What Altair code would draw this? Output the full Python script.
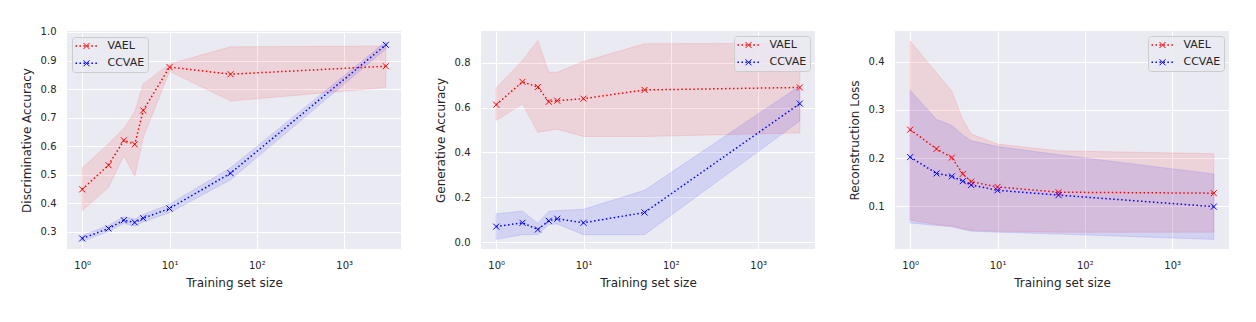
import altair as alt
import pandas as pd

# ---------------- data ----------------
x_sizes = [1, 2, 3, 4, 5, 10, 50, 3000]
series_names = ["VAEL", "CCVAE"]
series_colors = ["#ff0000", "#0000ff"]

# Discriminative accuracy
disc_vael_mean = [0.448, 0.533, 0.620, 0.606, 0.725, 0.877, 0.852, 0.880]
disc_vael_lo = [0.373, 0.455, 0.566, 0.494, 0.630, 0.862, 0.758, 0.805]
disc_vael_hi = [0.523, 0.608, 0.662, 0.720, 0.818, 0.888, 0.948, 0.951]
disc_ccvae_mean = [0.276, 0.311, 0.340, 0.332, 0.347, 0.381, 0.505, 0.955]
disc_ccvae_lo = [0.266, 0.300, 0.328, 0.320, 0.334, 0.366, 0.482, 0.940]
disc_ccvae_hi = [0.286, 0.322, 0.352, 0.344, 0.360, 0.396, 0.524, 0.966]

# Generative accuracy
gen_vael_mean = [0.613, 0.715, 0.692, 0.626, 0.631, 0.640, 0.679, 0.690]
gen_vael_lo = [0.543, 0.617, 0.489, 0.498, 0.504, 0.471, 0.471, 0.487]
gen_vael_hi = [0.688, 0.810, 0.900, 0.758, 0.758, 0.806, 0.885, 0.887]
gen_ccvae_mean = [0.069, 0.086, 0.056, 0.095, 0.104, 0.086, 0.132, 0.618]
gen_ccvae_lo = [0.012, 0.033, 0.033, 0.078, 0.081, 0.033, 0.033, 0.540]
gen_ccvae_hi = [0.126, 0.138, 0.084, 0.137, 0.141, 0.146, 0.231, 0.697]

# Reconstruction loss
rec_vael_mean = [0.259, 0.219, 0.201, 0.167, 0.151, 0.140, 0.129, 0.127]
rec_vael_lo = [0.071, 0.062, 0.059, 0.053, 0.050, 0.048, 0.046, 0.046]
rec_vael_hi = [0.443, 0.377, 0.339, 0.280, 0.250, 0.229, 0.215, 0.209]
rec_ccvae_mean = [0.202, 0.168, 0.162, 0.152, 0.144, 0.133, 0.123, 0.099]
rec_ccvae_lo = [0.065, 0.060, 0.057, 0.052, 0.048, 0.046, 0.042, 0.031]
rec_ccvae_hi = [0.341, 0.280, 0.268, 0.248, 0.236, 0.224, 0.207, 0.167]

x_ticks = [1, 10, 100, 1000]
disc_ticks = [0.3, 0.4, 0.5, 0.6, 0.7, 0.8, 0.9, 1.0]
gen_ticks = [0.0, 0.2, 0.4, 0.6, 0.8]
rec_ticks = [0.1, 0.2, 0.3, 0.4]

# ---------------- styling ----------------
FONT = "DejaVu Sans"
TEXT = "#262626"
X_DOMAIN = [0.6699, 4477]
W, H = 334, 218
XPATH = "M-1,-1L1,1M-1,1L1,-1"
LINEPATH = "M-2.75,0L2.75,0"
DOT = [1.5, 2.475]
LEG_FS = 11


def make_df(vael, ccvae):
    rows = []
    for name, (m, lo, hi) in zip(series_names, [vael, ccvae]):
        for xv, mv, lv, hv in zip(x_sizes, m, lo, hi):
            rows.append({"size": xv, "series": name, "mean": mv, "lo": lv, "hi": hv})
    return pd.DataFrame(rows)


def line_legend(lx, ly):
    return alt.Legend(
        title=None, orient="none", legendX=lx, legendY=ly, padding=3.5,
        fillColor="rgba(234,234,242,0.8)", strokeColor="#cccccc", cornerRadius=3,
        symbolType=LINEPATH, symbolSize=64, symbolStrokeWidth=1.5, symbolDash=DOT,
        symbolOffset=5.5, labelOffset=15.5, rowPadding=5.3,
        labelFontSize=LEG_FS, labelColor=TEXT, labelFont=FONT, zindex=0,
    )


def pts_legend(lx, ly):
    return alt.Legend(
        title=None, orient="none", legendX=lx, legendY=ly, padding=3.5,
        symbolType=XPATH, symbolSize=36, symbolStrokeWidth=1,
        symbolFillColor="transparent",
        symbolOffset=5.5, labelOffset=15.5, rowPadding=5.3,
        labelFontSize=LEG_FS, labelColor=TEXT, labelFont=FONT, labelOpacity=0, zindex=1,
    )


def panel(df, ytitle, ydomain, yticks, lx, ly):
    cscale = alt.Scale(domain=series_names, range=series_colors)
    xenc = alt.X(
        "size:Q",
        scale=alt.Scale(type="log", domain=X_DOMAIN, nice=False),
        axis=alt.Axis(
            values=x_ticks, title="Training set size", labelFlush=False,
            labelExpr="'10' + ['\u2070','\u00b9','\u00b2','\u00b3'][round(log(datum.value)/LN10)]",
        ),
    )
    yscale = alt.Scale(domain=ydomain, nice=False, zero=False)
    yaxis = alt.Axis(values=yticks, format=".1f", title=ytitle)
    base = alt.Chart(df)
    band = base.mark_area(fillOpacity=0.1, strokeOpacity=0.1, strokeWidth=1).encode(
        x=xenc,
        y=alt.Y("lo:Q", scale=yscale, axis=yaxis),
        y2="hi:Q",
        color=alt.Color("series:N", scale=cscale, legend=None),
        stroke=alt.Stroke("series:N", scale=cscale, legend=None),
    )
    line = base.mark_line(strokeDash=DOT, strokeWidth=1.5).encode(
        x=xenc,
        y=alt.Y("mean:Q", scale=yscale, axis=yaxis),
        color=alt.Color("series:N", scale=cscale, legend=line_legend(lx, ly)),
    )
    pts = base.mark_point(shape=XPATH, size=36, strokeWidth=1, filled=False, opacity=1).encode(
        x=xenc,
        y=alt.Y("mean:Q", scale=yscale, axis=yaxis),
        color=alt.Color("series:N", scale=cscale, legend=pts_legend(lx, ly)),
    )
    return (
        alt.layer(band, line, pts)
        .properties(width=W, height=H)
        .resolve_legend(color="independent")
    )


p1 = panel(
    make_df((disc_vael_mean, disc_vael_lo, disc_vael_hi), (disc_ccvae_mean, disc_ccvae_lo, disc_ccvae_hi)),
    "Discriminative Accuracy", [0.239, 1.0035], disc_ticks, 5, 6,
)
p2 = panel(
    make_df((gen_vael_mean, gen_vael_lo, gen_vael_hi), (gen_ccvae_mean, gen_ccvae_lo, gen_ccvae_hi)),
    "Generative Accuracy", [-0.031, 0.942], gen_ticks, 253, 5,
)
p3 = panel(
    make_df((rec_vael_mean, rec_vael_lo, rec_vael_hi), (rec_ccvae_mean, rec_ccvae_lo, rec_ccvae_hi)),
    "Reconstruction Loss", [0.011, 0.464], rec_ticks, 253, 5,
)

chart = (
    alt.hconcat(p1, p2, p3, spacing=33)
    .resolve_scale(color="independent", stroke="independent")
    .resolve_legend(color="independent")
    .configure(font=FONT, padding={"left": 12, "top": 18, "right": 5, "bottom": 5})
    .configure_view(fill="#EAEAF2", stroke=None)
    .configure_axis(
        grid=True, gridColor="white", gridWidth=1, gridOpacity=1,
        domain=False, ticks=False, tickSize=0,
        labelFontSize=10, labelColor=TEXT, labelFont=FONT,
        titleFontSize=12, titleColor=TEXT, titleFont=FONT, titleFontWeight="normal",
    )
    .configure_axisY(labelPadding=11, titlePadding=7)
    .configure_axisX(labelPadding=11, titlePadding=7)
)

chart.save("out.html", embed_options={"renderer": "svg", "actions": False})
